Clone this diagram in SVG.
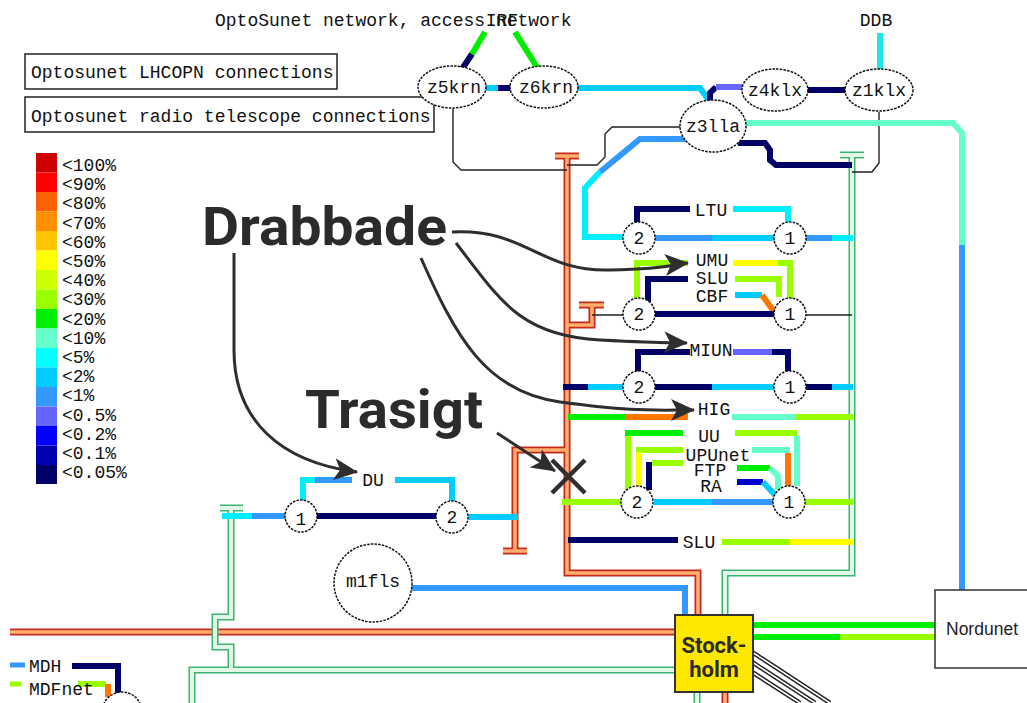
<svg xmlns="http://www.w3.org/2000/svg" width="1027" height="703" viewBox="0 0 1027 703">
<style>
.t{font-family:"Liberation Mono","DejaVu Sans Mono",monospace;font-size:18px;fill:#111;}
.c{text-anchor:middle;dominant-baseline:central;}
.big{font-family:Roboto,"Liberation Sans",sans-serif;font-weight:700;font-size:54px;fill:#2b2b2b;}
.sth{font-family:Roboto,"Liberation Sans",sans-serif;font-weight:700;font-size:22px;fill:#2b2b2b;text-anchor:middle;}
.nd{fill:#fff;stroke:#111;stroke-width:1.5;stroke-dasharray:2.5 1.2;}
.thin{fill:none;stroke:#222;stroke-width:1.4;}
.l{fill:none;stroke-width:6;stroke-linejoin:miter;}
.rc{fill:none;stroke:#c8281e;stroke-width:7;}
.rci{fill:none;stroke:#ffb070;stroke-width:3.5;}
.gc{fill:none;stroke:#3cb371;stroke-width:7;}
.gci{fill:none;stroke:#e3f9e8;stroke-width:4;}
.arr{fill:none;stroke:#2e2e2e;stroke-width:3;marker-end:url(#ah);}
.nv{stroke:#000066}.bl{stroke:#3399ff}.cy{stroke:#00eeff}.sk{stroke:#00ccff}.sl{stroke:#6666ff}
.gr{stroke:#00ee00}.ch{stroke:#99ff00}.ye{stroke:#ffff00}.aq{stroke:#66ffcc}.or{stroke:#ff7700}.db{stroke:#0000cc}
</style>
<defs>
<marker id="ah" markerUnits="userSpaceOnUse" markerWidth="26" markerHeight="24" refX="23" refY="11" orient="auto">
<path d="M0,0 L24,11 L0,22 L6,11 Z" fill="#2e2e2e"/>
</marker>
</defs>
<rect width="1027" height="703" fill="#fff"/>

<!-- title & boxes -->
<text class="t" x="215" y="21" dominant-baseline="central">OptoSunet network, access network</text>
<g id="box-lhcopn"><rect x="25" y="54" width="312" height="35" fill="#fff" stroke="#222" stroke-width="1.5"/><text class="t" x="31" y="73" dominant-baseline="central">Optosunet LHCOPN connections</text></g>
<g id="box-radio"><rect x="25" y="97" width="409" height="35" fill="#fff" stroke="#222" stroke-width="1.5"/><text class="t" x="31" y="117" dominant-baseline="central">Optosunet radio telescope connections</text></g>

<!-- legend -->
<g id="legend">
<rect x="36" y="153" width="21" height="19.5" fill="#cc0000"/>
<rect x="36" y="172.5" width="21" height="19.5" fill="#ff0000"/>
<rect x="36" y="192" width="21" height="19.5" fill="#ff6000"/>
<rect x="36" y="211.5" width="21" height="19.5" fill="#ff9000"/>
<rect x="36" y="231" width="21" height="19.5" fill="#ffc400"/>
<rect x="36" y="250.5" width="21" height="19.5" fill="#ffff00"/>
<rect x="36" y="270" width="21" height="19.5" fill="#ccff00"/>
<rect x="36" y="289.5" width="21" height="19.5" fill="#99ff00"/>
<rect x="36" y="309" width="21" height="19.5" fill="#00ee00"/>
<rect x="36" y="328.5" width="21" height="19.5" fill="#66ffcc"/>
<rect x="36" y="348" width="21" height="19.5" fill="#00ffff"/>
<rect x="36" y="367.5" width="21" height="19.5" fill="#00ccff"/>
<rect x="36" y="387" width="21" height="19.5" fill="#3399ff"/>
<rect x="36" y="406.5" width="21" height="19.5" fill="#6666ff"/>
<rect x="36" y="426" width="21" height="19.5" fill="#0000ff"/>
<rect x="36" y="445.5" width="21" height="19.5" fill="#0000b0"/>
<rect x="36" y="465" width="21" height="19" fill="#000066"/>
<g class="t" dominant-baseline="central">
<text x="62" y="166">&lt;100%</text>
<text x="62" y="185.2">&lt;90%</text>
<text x="62" y="204.4">&lt;80%</text>
<text x="62" y="223.6">&lt;70%</text>
<text x="62" y="242.8">&lt;60%</text>
<text x="62" y="262">&lt;50%</text>
<text x="62" y="281.2">&lt;40%</text>
<text x="62" y="300.4">&lt;30%</text>
<text x="62" y="319.6">&lt;20%</text>
<text x="62" y="338.8">&lt;10%</text>
<text x="62" y="358">&lt;5%</text>
<text x="62" y="377.2">&lt;2%</text>
<text x="62" y="396.4">&lt;1%</text>
<text x="62" y="415.6">&lt;0.5%</text>
<text x="62" y="434.8">&lt;0.2%</text>
<text x="62" y="454">&lt;0.1%</text>
<text x="62" y="473.2">&lt;0.05%</text>
</g>
</g>

<g id="connectors">
<!-- red channel -->
<path class="rc" d="M555,156 L579,156 M567,156 L567,573 L698,573 L698,616 M567,325 L592,325 L592,305 M579,305 L604,305 M567,450 L515,450 L515,551 M503,551 L527,551 M10,632 L676,632 M725,691 L725,703"/>
<path class="rci" d="M555,156 L579,156 M567,156 L567,573 L698,573 L698,616 M567,325 L592,325 L592,305 M579,305 L604,305 M567,450 L515,450 L515,551 M503,551 L527,551 M10,632 L676,632 M725,691 L725,703"/>
<!-- green channel -->
<path class="gc" d="M840,155 L864,155 M852,155 L852,573 L725,573 L725,616 M220,508 L243,508 M231,508 L231,617 L215,617 L215,647 L231,647 L231,670 M192,703 L192,670 L676,670 M697,691 L697,703"/>
<path class="gci" d="M840,155 L864,155 M852,155 L852,573 L725,573 L725,616 M220,508 L243,508 M231,508 L231,617 L215,617 L215,647 L231,647 L231,670 M192,703 L192,670 L676,670 M697,691 L697,703"/>
<!-- diagonal links from Stockholm -->
<path d="M752,652 L830,703 M752,662 L815,703 M752,672 L800,703" fill="none" stroke="#222" stroke-width="4.5"/>
<path d="M752,652 L830,703 M752,662 L815,703 M752,672 L800,703" fill="none" stroke="#fff" stroke-width="1.6"/>

<!-- thin lines -->
<path class="thin" d="M453,109 L453,162 L461,170 L567,170"/>
<path class="thin" d="M680,127 L612,127 L605,134 L605,157 L597,165 L567,165"/>
<path class="thin" d="M879,112 L879,163 L872,172 L852,172"/>
<path class="thin" d="M592,315 L623,315 M806,315 L852,315"/>

<!-- top links -->
<path class="l nv" stroke-width="5" d="M460,72 L472,54"/>
<path class="l gr" stroke-width="5" d="M472,54 L485,32"/>
<path class="l gr" stroke-width="5" d="M540,72 L515,32"/>
<path class="l sk" d="M484,88 L498,88"/>
<path class="l nv" d="M498,88 L512,88"/>
<path class="l sk" d="M577,88 L700,88 L710,102"/>
<path class="l nv" d="M710,102 L710,93 L716,87"/>
<path class="l sl" d="M716,87 L743,87"/>
<path class="l nv" stroke-width="8" d="M807,90 L846,90"/>
<path class="l" stroke="#22e6e6" stroke-width="4" d="M880,33 L880,69"/>
<path class="l aq" stroke-width="7" d="M744,123 L953,123 L962,133 L962,245"/>
<path class="l bl" stroke-width="7" d="M962,245 L962,590"/>
<path class="l nv" stroke-width="7" d="M738,143 L765,143 L770,150 L770,160 L776,165 L852,165"/>
<path class="l bl" d="M700,139 L640,139 L600,172"/>
<path class="l cy" d="M600,172 L585,188 L585,237 L623,237"/>

<!-- LTU -->
<path class="l nv" d="M637,222 L637,209 L690,209"/>
<path class="l cy" d="M733,209 L788,209 L788,222"/>
<path class="l bl" d="M655,238 L712,238"/>
<path class="l sk" d="M712,238 L774,238"/>
<path class="l bl" d="M806,238 L832,238"/>
<path class="l cy" d="M832,238 L853,238"/>
<!-- UMU/SLU/CBF -->
<path class="l ch" d="M637,300 L637,263 L688,263"/>
<path class="l ye" d="M733,263 L778,263"/>
<path class="l ch" d="M778,263 L790,263 L790,299"/>
<path class="l nv" d="M648,302 L648,279 L688,279"/>
<path class="l ch" d="M735,279 L779,279 L779,297"/>
<path class="l sk" d="M735,295 L762,295"/>
<path class="l or" d="M762,295 L775,313"/>
<path class="l nv" stroke-width="7" d="M655,314 L774,314"/>
<!-- MIUN -->
<path class="l nv" d="M638,372 L638,352 L690,352"/>
<path class="l sl" d="M733,352 L772,352"/>
<path class="l nv" d="M772,352 L788,352 L788,371"/>
<path class="l nv" d="M655,387 L712,387"/>
<path class="l sk" d="M712,387 L774,387"/>
<path class="l nv" d="M563,387 L588,387"/>
<path class="l sk" d="M588,387 L623,387"/>
<path class="l nv" d="M806,387 L832,387"/>
<path class="l sk" d="M832,387 L853,387"/>
<!-- HIG -->
<path class="l gr" d="M568,417 L625,417"/>
<path class="l or" d="M625,417 L688,417"/>
<path class="l aq" d="M732,417 L795,417"/>
<path class="l ch" d="M795,417 L853,417"/>
<!-- UU group -->
<path class="l gr" d="M625,433 L683,433"/>
<path class="l ch" stroke-width="5" d="M628,436 L628,490"/>
<path class="l ch" stroke-width="5" d="M636,450 L683,450"/>
<path class="l ye" stroke-width="5" d="M639,452 L639,490"/>
<path class="l ch" stroke-width="5" d="M652,463 L683,463"/>
<path class="l nv" stroke-width="5" d="M649,462 L649,490"/>
<path class="l ch" d="M735,433 L797,433"/>
<path class="l aq" stroke-width="5" d="M797,436 L797,486"/>
<path class="l aq" stroke-width="5" d="M752,450 L790,450"/>
<path class="l or" stroke-width="5" d="M788,453 L788,486"/>
<path class="l gr" stroke-width="5" d="M737,468 L770,468"/>
<path class="l aq" stroke-width="5" d="M770,468 L778,476 L778,490"/>
<path class="l db" stroke-width="5" d="M737,482 L763,482"/>
<path class="l sk" stroke-width="5" d="M763,482 L777,497"/>
<path class="l sk" d="M654,502 L712,502"/>
<path class="l bl" d="M712,502 L773,502"/>
<path class="l ch" d="M562,502 L621,502"/>
<path class="l ch" d="M805,502 L853,502"/>
<!-- SLU bottom -->
<path class="l nv" d="M568,540 L678,540"/>
<path class="l ch" d="M722,542 L790,542"/>
<path class="l ye" d="M790,542 L853,542"/>
<!-- DU -->
<path class="l cy" d="M303,500 L303,480 L315,480"/>
<path class="l bl" d="M315,480 L352,480"/>
<path class="l sk" d="M395,480 L452,480 L452,501"/>
<path class="l nv" stroke-width="7" d="M316,516 L437,516"/>
<path class="l cy" d="M222,516 L252,516"/>
<path class="l bl" d="M252,516 L286,516"/>
<path class="l sk" d="M468,517 L518,517"/>
<!-- m1fls -->
<path class="l bl" stroke-width="5" d="M411,588 L685,588 L685,615"/>
<!-- Stockholm - Nordunet -->
<path class="l gr" stroke-width="7" d="M753,625 L935,625"/>
<path class="l gr" stroke-width="7" d="M753,637 L840,637"/>
<path class="l ch" stroke-width="7" d="M840,637 L935,637"/>
<!-- bottom-left -->
<path class="l nv" stroke-width="6" d="M72,666 L118,666 L118,697"/>
<path class="l ch" stroke-width="5" d="M78,684 L106,684"/>
<path class="l or" stroke-width="5" d="M108,684 L108,697"/>
</g>

<!-- nodes -->
<g id="node-z5krn"><ellipse class="nd" cx="452" cy="87" rx="34" ry="21"/><text class="t c" x="454" y="88">z5krn</text></g>
<g id="node-z6krn"><ellipse class="nd" cx="544" cy="87" rx="34" ry="21"/><text class="t c" x="546" y="88">z6krn</text></g>
<g id="node-z3lla"><ellipse class="nd" cx="713" cy="126" rx="33" ry="26"/><text class="t c" x="713" y="127">z3lla</text></g>
<g id="node-z4klx"><ellipse class="nd" cx="775" cy="90" rx="33" ry="21"/><text class="t c" x="775" y="91">z4klx</text></g>
<g id="node-z1klx"><ellipse class="nd" cx="879" cy="90" rx="34" ry="21"/><text class="t c" x="879" y="91">z1klx</text></g>
<g id="node-irf"><text class="t c" x="502" y="21">IRF</text></g>
<g id="node-ddb"><text class="t c" x="876" y="21">DDB</text></g>

<g id="node-ltu-2"><circle class="nd" cx="639" cy="238" r="16"/><text class="t c" x="639" y="239">2</text></g>
<g id="node-ltu-1"><circle class="nd" cx="790" cy="238" r="16"/><text class="t c" x="790" y="239">1</text></g>
<g id="node-umu-2"><circle class="nd" cx="639" cy="314" r="16"/><text class="t c" x="639" y="315">2</text></g>
<g id="node-umu-1"><circle class="nd" cx="790" cy="314" r="16"/><text class="t c" x="790" y="315">1</text></g>
<g id="node-miun-2"><circle class="nd" cx="639" cy="387" r="16"/><text class="t c" x="639" y="388">2</text></g>
<g id="node-miun-1"><circle class="nd" cx="790" cy="387" r="16"/><text class="t c" x="790" y="388">1</text></g>
<g id="node-uu-2"><circle class="nd" cx="637" cy="502" r="16"/><text class="t c" x="637" y="503">2</text></g>
<g id="node-uu-1"><circle class="nd" cx="789" cy="502" r="16"/><text class="t c" x="789" y="503">1</text></g>
<g id="node-du-1"><circle class="nd" cx="301" cy="516" r="16"/><text class="t c" x="301" y="520">1</text></g>
<g id="node-du-2"><circle class="nd" cx="452" cy="517" r="16"/><text class="t c" x="452" y="518">2</text></g>
<g id="node-m1fls"><circle class="nd" cx="373" cy="583" r="39"/><text class="t c" x="373" y="582">m1fls</text></g>
<g id="node-bl"><circle class="nd" cx="122" cy="712" r="20"/></g>

<!-- link labels -->
<g id="labels" class="t c">
<text x="711" y="211">LTU</text>
<text x="712" y="261">UMU</text>
<text x="712" y="279">SLU</text>
<text x="712" y="297">CBF</text>
<text x="711" y="351">MIUN</text>
<text x="714" y="410">HIG</text>
<text x="709" y="437">UU</text>
<text x="718" y="456">UPUnet</text>
<text x="710" y="471">FTP</text>
<text x="711" y="487">RA</text>
<text x="699" y="543">SLU</text>
<text x="373" y="481">DU</text>
</g>

<g id="node-stockholm">
<rect x="675" y="615" width="78" height="77" fill="#ffe800" stroke="#333" stroke-width="2"/>
<text class="sth" x="714" y="653">Stock-</text>
<text class="sth" x="714" y="677">holm</text>
</g>
<g id="node-nordunet">
<rect x="935" y="590" width="100" height="78" fill="#fff" stroke="#333" stroke-width="1.5"/>
<text x="946" y="629" dominant-baseline="central" font-family="'Liberation Sans',Arial,sans-serif" font-size="17.5" fill="#222">Nordunet</text>
</g>

<g id="legend-bottom">
<path d="M10,665 L25,665" stroke="#3399ff" stroke-width="5"/>
<text class="t" x="29" y="667" dominant-baseline="central">MDH</text>
<path d="M10,684 L21,684" stroke="#99ff00" stroke-width="5"/>
<text class="t" x="29" y="690" dominant-baseline="central">MDFnet</text>
</g>

<!-- annotations -->
<g id="annotations">
<path class="arr" d="M452,232 C525,228 540,272 610,270 S665,265 688,263"/>
<path class="arr" d="M456,243 C500,300 520,336 600,340 S660,342 687,343"/>
<path class="arr" d="M421,258 C455,335 485,392 560,402 S650,410 694,410"/>
<path class="arr" d="M234,253 L234,350 C234,420 280,462 357,472"/>
<path class="arr" d="M497,433 L555,471"/>
<path d="M552,460 L585,493 M585,460 L552,493" stroke="#2e2e2e" stroke-width="4.5" fill="none"/>
<text class="big" x="202" y="245" textLength="245" lengthAdjust="spacingAndGlyphs">Drabbade</text>
<text class="big" x="305" y="428" textLength="178" lengthAdjust="spacingAndGlyphs">Trasigt</text>
</g>
</svg>
